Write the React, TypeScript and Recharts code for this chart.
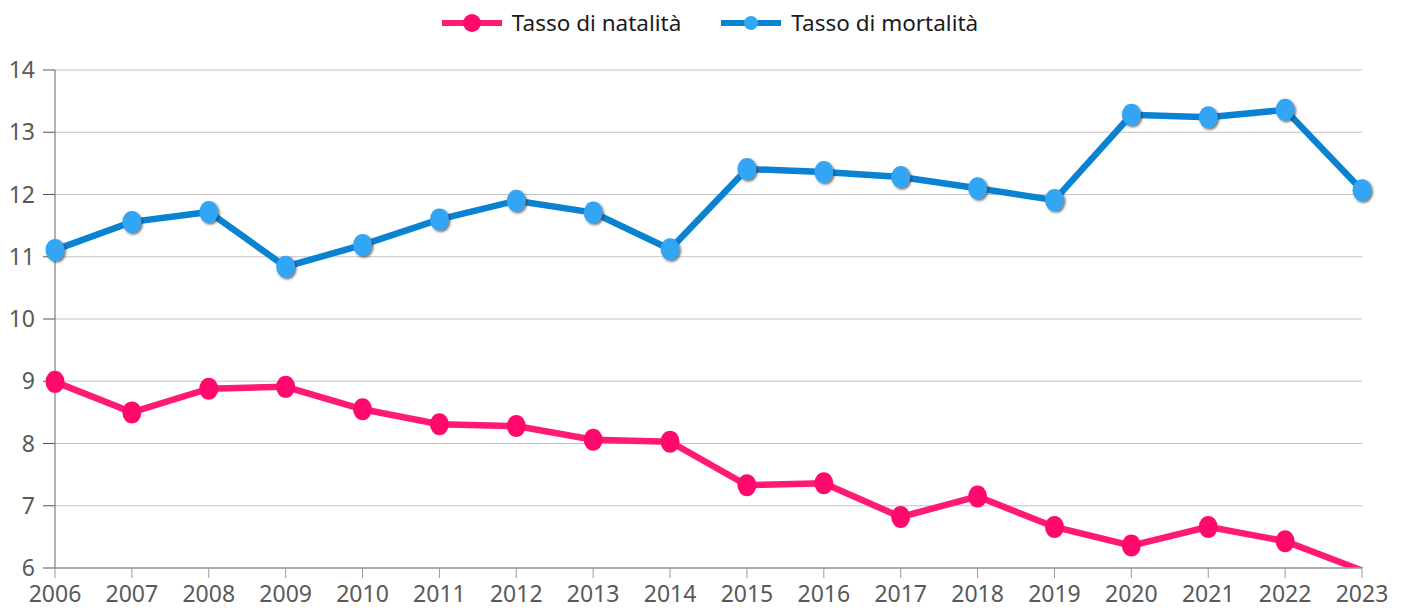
import { LineChart, Line, XAxis, YAxis, CartesianGrid } from 'recharts';

const years = ['2006', '2007', '2008', '2009', '2010', '2011', '2012', '2013', '2014', '2015', '2016', '2017', '2018', '2019', '2020', '2021', '2022', '2023'];
const natalita = [8.99, 8.5, 8.88, 8.91, 8.55, 8.31, 8.28, 8.06, 8.03, 7.33, 7.36, 6.82, 7.15, 6.66, 6.36, 6.66, 6.43, 5.96];
const mortalita = [11.11, 11.56, 11.72, 10.84, 11.19, 11.6, 11.9, 11.71, 11.12, 12.41, 12.36, 12.28, 12.1, 11.91, 13.28, 13.24, 13.36, 12.07];
const yTicks = [6, 7, 8, 9, 10, 11, 12, 13, 14];

const data = years.map((y, i) => ({ year: y, natalita: natalita[i], mortalita: mortalita[i] }));

const PINK = '#ff1a75';
const PINK_DOT = '#ff0a6c';
const BLUE = '#0a82d2';
const BLUE_DOT = '#33a6f5';
const FONT = '"Noto Sans", sans-serif';

// points below the axis minimum get no marker (clipped like the original)
const makeDot = (fill: string, shadow: boolean) => (props: any) => {
  const { cx, cy, value, index } = props;
  if (value < 6) return <g key={index} />;
  return (
    <ellipse
      key={index}
      cx={cx}
      cy={cy}
      rx={9.5}
      ry={11}
      fill={fill}
      stroke="none"
      filter={shadow ? 'url(#dotShadow)' : undefined}
    />
  );
};

const legendItems = [
  { label: 'Tasso di natalità', color: PINK, dot: PINK_DOT, r: 9 },
  { label: 'Tasso di mortalità', color: BLUE, dot: BLUE_DOT, r: 7 },
];

function ChartLegend() {
  return (
    <div
      style={{
        position: 'absolute', top: 8, left: 0, width: 1420,
        display: 'flex', justifyContent: 'center', gap: 40,
        fontFamily: FONT, fontSize: 22.5, color: '#1a1a1a', lineHeight: '30px',
      }}
    >
      {legendItems.map((it) => (
        <div key={it.label} style={{ display: 'flex', alignItems: 'center' }}>
          <svg width={60} height={24} style={{ marginRight: 10 }}>
            <line x1={0} y1={12} x2={60} y2={12} stroke={it.color} strokeWidth={6} />
            <circle cx={30} cy={12} r={it.r} fill={it.dot} />
          </svg>
          <span>{it.label}</span>
        </div>
      ))}
    </div>
  );
}

export default function App() {
  return (
    <div style={{ position: 'absolute', left: 0, top: 0, width: 1408, height: 613, background: '#fff' }}>
      <LineChart width={1408} height={613} data={data} margin={{ top: 70, right: 46, left: 0, bottom: 0 }}>
        <defs>
          <filter id="dotShadow" x="-50%" y="-50%" width="200%" height="200%">
            <feDropShadow dx={1.5} dy={1.5} stdDeviation={1} floodColor="#333" floodOpacity={0.7} />
          </filter>
        </defs>
        <CartesianGrid vertical={false} stroke="#c4c4c4" strokeWidth={1.2} />
        <XAxis
          dataKey="year"
          height={45}
          tickSize={10}
          tickMargin={8}
          tickLine={{ stroke: '#999' }}
          axisLine={{ stroke: '#999', strokeWidth: 1.5 }}
          tick={{ fill: '#595959', fontSize: 23, fontFamily: FONT }}
          interval={0}
        />
        <YAxis
          width={55}
          domain={[6, 14]}
          ticks={yTicks}
          allowDataOverflow
          tickSize={12}
          tickMargin={8}
          tickLine={{ stroke: '#555' }}
          axisLine={{ stroke: '#999', strokeWidth: 1.5 }}
          tick={{ fill: '#595959', fontSize: 23, fontFamily: FONT }}
        />
        <Line
          dataKey="natalita"
          stroke={PINK}
          strokeWidth={6.5}
          dot={makeDot(PINK_DOT, false)}
          activeDot={false}
          isAnimationActive={false}
        />
        <Line
          dataKey="mortalita"
          stroke={BLUE}
          strokeWidth={6.5}
          dot={makeDot(BLUE_DOT, true)}
          activeDot={false}
          isAnimationActive={false}
        />
      </LineChart>
      <ChartLegend />
    </div>
  );
}
